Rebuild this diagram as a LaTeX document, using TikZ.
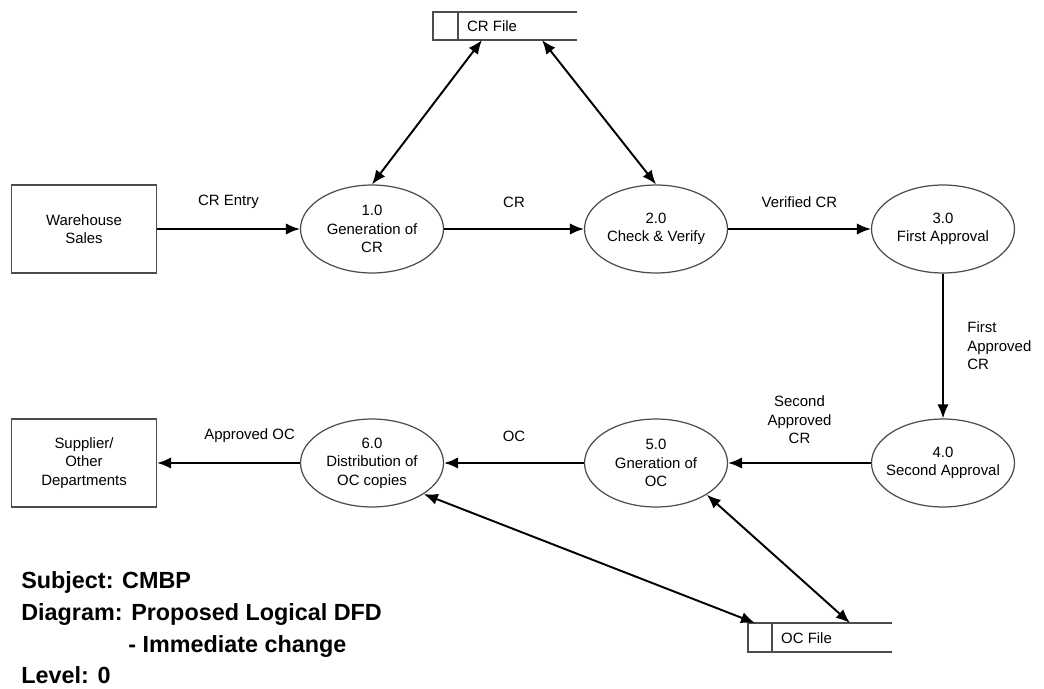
\documentclass[tikz,border=0pt]{standalone}
\usepackage{fontspec}
\setmainfont{Liberation Sans}
\usetikzlibrary{shapes.geometric,arrows.meta}

\tikzset{
  proc/.style={draw=black!70, line width=0.7pt, ellipse, minimum width=2.86cm,
    minimum height=1.76cm, inner sep=0pt, align=center,
    font=\fontsize{8.5}{10.6}\selectfont},
  ent/.style={draw=black!70, line width=0.7pt, rectangle, minimum width=2.9cm,
    minimum height=1.76cm, inner sep=0pt, align=center,
    font=\fontsize{8.5}{10.6}\selectfont},
  flow/.style={-{Latex[length=8pt,width=6.5pt]}, line width=1.1pt},
  biflow/.style={{Latex[length=8pt,width=6.5pt]}-{Latex[length=8pt,width=6.5pt]}, line width=1.1pt},
  storeline/.style={draw=black!70, line width=0.7pt},
  lbl/.style={align=center, font=\fontsize{8.5}{10.6}\selectfont},
  title/.style={anchor=base west, inner sep=0pt, font=\fontsize{13.3}{16}\selectfont\bfseries}
}

\begin{document}
\begin{tikzpicture}[x=0.02cm, y=-0.02cm]
\useasboundingbox (0,0) rectangle (1044,689);

% external entities
\node[ent] (ws) at (84,229) {Warehouse\\Sales};
\node[ent] (sup) at (84,463) {Supplier/\\Other\\Departments};

% processes
\node[proc] (p1) at (372,229) {1.0\\Generation of\\CR};
\node[proc] (p2) at (656,229) {2.0\\Check \& Verify};
\node[proc] (p3) at (943,229) {3.0\\First Approval};
\node[proc, inner xsep=-4pt] (p4) at (943,463) {4.0\\Second Approval};
\node[proc] (p5) at (656,463) {5.0\\Gneration of\\OC};
\node[proc] (p6) at (372,463) {6.0\\Distribution of\\OC copies};

% data stores
\draw[storeline] (577,12) -- (433,12) -- (433,40) -- (577,40) (458,12) -- (458,40);
\node[lbl, anchor=west] (crfile) at (461,26) {CR File};
\draw[storeline] (892,623) -- (748,623) -- (748,652) -- (892,652) (772,623) -- (772,652);
\node[lbl, anchor=west] (ocfile) at (775,638) {OC File};
\coordinate (cra) at (482,40);
\coordinate (crb) at (542,40);
\coordinate (oca) at (755,623);
\coordinate (ocb) at (850,623);

% flows
\draw[flow] (ws) -- node[lbl, above=8pt] (l1) {CR Entry} (p1);
\draw[flow] (p1) -- node[lbl, above=8pt] (l2) {CR} (p2);
\draw[flow] (p2) -- node[lbl, above=8pt] (l3) {Verified CR} (p3);
\draw[flow] (p3) -- node[lbl, right=10pt, align=left] (l4) {First\\Approved\\CR} (p4);
\draw[flow] (p4) -- node[lbl, above=7pt] (l5) {Second\\Approved\\CR} (p5);
\draw[flow] (p5) -- node[lbl, above=8pt] (l6) {OC} (p6);
\draw[flow] (p6) -- node[lbl, above=8pt, xshift=12pt] (l7) {Approved OC} (sup);

\draw[biflow] (p1.north) -- (cra);
\draw[biflow] (p2.north) -- (crb);
\draw[biflow] (p6.-31) -- (oca);
\draw[biflow] (p5.-32) -- (ocb);

% caption
\node[title] (t1) at (21,588) {Subject: CMBP};
\node[title] (t2) at (21,620) {Diagram: Proposed Logical DFD};
\node[title] (t3) at (128,652) {- Immediate change};
\node[title] (t4) at (21,683) {Level: 0};

\end{tikzpicture}
\end{document}
